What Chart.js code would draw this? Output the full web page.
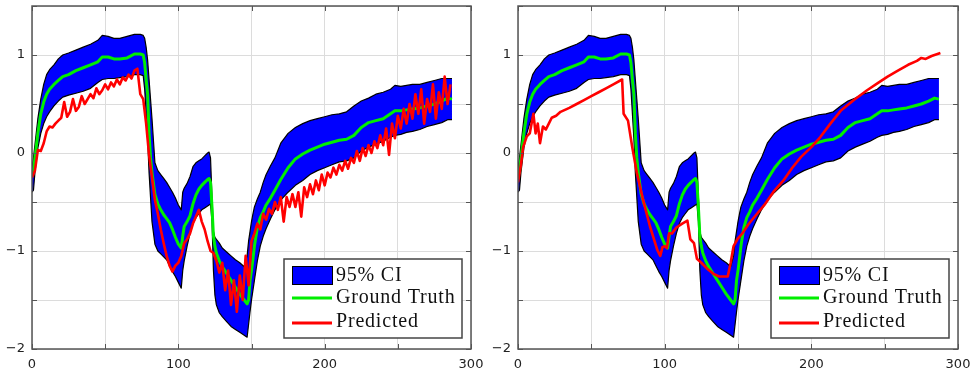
<!DOCTYPE html>
<html>
<head>
<meta charset="utf-8">
<script src="https://cdn.jsdelivr.net/npm/chart.js@4.4.1/dist/chart.umd.min.js"></script>
<style>
  body { margin: 0; background: #fff; }
  canvas { position: absolute; top: 0; }
  #leftChart { left: 0; }
  #rightChart { left: 487px; }
</style>
</head>
<body>
<canvas id="leftChart" width="487" height="375"></canvas>
<canvas id="rightChart" width="487" height="375"></canvas>
<script>
// time steps shared by the CI band and the ground truth
const steps = [0,1,2,4,6,8,10,12,15,18,21,25,30,35,40,45,48,52,56,60,65,70,74,76,77,78,79,80,81,82,
  84,86,88,90,92,94,96,98,100,102,103,104,106,108,110,112,114,116,118,120,121,122,123,124,125,126,128,130,133,136,
  139,142,145,147,148,149,150,151,152,154,156,158,160,163,166,170,175,180,185,190,195,200,205,210,215,220,225,230,235,240,
  245,248,252,256,260,265,270,275,280,284,287];

const groundTruth = [-0.22,-0.2,-0.05,0.2,0.4,0.52,0.6,0.65,0.7,0.74,
  0.78,0.8,0.84,0.87,0.9,0.93,0.98,0.98,0.96,0.96,
  0.97,1.01,1.01,1.0,0.92,0.75,0.6,0.2,-0.05,-0.2,
  -0.42,-0.52,-0.58,-0.63,-0.67,-0.71,-0.78,-0.86,-0.93,-0.97,
  -0.85,-0.75,-0.7,-0.64,-0.52,-0.43,-0.37,-0.33,-0.3,-0.27,
  -0.26,-0.3,-0.55,-0.85,-0.95,-1.02,-1.1,-1.16,-1.23,-1.3,
  -1.37,-1.44,-1.5,-1.54,-1.5,-1.3,-1.2,-1.08,-0.95,-0.76,
  -0.66,-0.6,-0.53,-0.46,-0.38,-0.27,-0.15,-0.06,-0.01,0.03,
  0.06,0.09,0.11,0.13,0.14,0.18,0.26,0.31,0.33,0.35,
  0.4,0.43,0.43,0.44,0.45,0.46,0.48,0.5,0.53,0.56,
  0.55];

const ciUpper = [-0.15,-0.05,0.08,0.35,0.55,0.7,0.8,0.85,0.9,0.96,
  1.0,1.02,1.05,1.08,1.11,1.15,1.2,1.19,1.17,1.17,
  1.19,1.21,1.21,1.2,1.17,1.08,0.95,0.75,0.55,0.35,
  -0.1,-0.18,-0.22,-0.26,-0.3,-0.35,-0.4,-0.46,-0.53,-0.58,
  -0.4,-0.36,-0.31,-0.24,-0.14,-0.1,-0.08,-0.06,-0.03,0.0,
  0.01,-0.05,-0.45,-0.8,-0.86,-0.88,-0.92,-0.97,-1.01,-1.05,
  -1.09,-1.12,-1.16,-1.05,-0.9,-0.8,-0.7,-0.62,-0.55,-0.47,
  -0.4,-0.3,-0.22,-0.13,-0.05,0.1,0.2,0.26,0.3,0.33,
  0.35,0.37,0.39,0.4,0.42,0.48,0.53,0.56,0.6,0.62,
  0.65,0.69,0.68,0.69,0.7,0.7,0.72,0.74,0.76,0.76,
  0.76];

const ciLower = [-0.4,-0.38,-0.2,0.05,0.2,0.3,0.37,0.42,0.48,0.53,
  0.57,0.59,0.61,0.63,0.66,0.72,0.75,0.76,0.76,0.77,
  0.78,0.8,0.8,0.79,0.65,0.4,0.15,-0.2,-0.45,-0.7,
  -0.93,-1.0,-1.03,-1.06,-1.09,-1.15,-1.21,-1.26,-1.32,-1.38,
  -1.2,-1.1,-0.95,-0.82,-0.72,-0.66,-0.62,-0.58,-0.56,-0.54,
  -0.53,-0.52,-0.7,-1.2,-1.45,-1.55,-1.63,-1.67,-1.72,-1.77,
  -1.8,-1.83,-1.86,-1.88,-1.75,-1.62,-1.5,-1.4,-1.3,-1.1,
  -0.95,-0.85,-0.77,-0.67,-0.58,-0.48,-0.4,-0.33,-0.28,-0.22,
  -0.18,-0.15,-0.12,-0.09,-0.08,-0.05,0.02,0.06,0.09,0.12,
  0.16,0.18,0.19,0.21,0.22,0.24,0.27,0.29,0.31,0.34,
  0.34];

// left panel prediction, one value every 2 steps (0, 2, 4, ... 286)
const predLeft = [-0.25,-0.18,0.03,0.02,0.1,0.22,0.27,0.26,0.3,0.33,
  0.36,0.52,0.37,0.42,0.55,0.43,0.47,0.58,0.5,0.55,
  0.6,0.56,0.66,0.6,0.64,0.7,0.65,0.72,0.68,0.75,
  0.7,0.77,0.74,0.8,0.76,0.84,0.86,0.6,0.55,0.3,
  -0.02,-0.25,-0.48,-0.62,-0.78,-0.92,-1.05,-1.15,-1.21,-1.15,
  -1.12,-1.05,-0.92,-0.88,-0.82,-0.72,-0.65,-0.58,-0.7,-0.78,
  -0.9,-1.0,-1.02,-1.1,-1.22,-1.12,-1.4,-1.2,-1.55,-1.3,
  -1.62,-1.25,-1.5,-1.05,-1.35,-0.9,-0.82,-0.72,-0.78,-0.62,
  -0.68,-0.57,-0.62,-0.5,-0.58,-0.45,-0.7,-0.45,-0.55,-0.42,
  -0.55,-0.4,-0.65,-0.35,-0.45,-0.32,-0.42,-0.28,-0.38,-0.22,
  -0.33,-0.2,-0.25,-0.15,-0.22,-0.12,-0.18,-0.08,-0.16,-0.05,
  -0.1,0.02,-0.08,0.05,-0.03,0.08,0.0,0.12,0.05,0.18,
  0.08,0.25,-0.02,0.3,0.15,0.38,0.25,0.45,0.3,0.5,
  0.35,0.6,0.4,0.65,0.3,0.55,0.42,0.7,0.35,0.62,
  0.45,0.78,0.5,0.7];

// right panel prediction (smooth curve)
const predRightX = [0,2,3.5,6,8,10.5,12,13.5,15,17,19,21,23,26,29,35,40,45,50,55,60,65,71,72,75,78,81,85,90,95,
  97,98.5,100,101.5,103,105,108,112,115.5,117.5,120,122,125,129,133,137,143,145,147,150,153,157,163,168,174,181,187,193,200,206,
  213,220,229,238,245,252,259,266,272,275,278,282,288];
const predRightY = [-0.3,-0.12,0.06,0.17,0.2,0.4,0.2,0.3,0.1,0.27,0.24,0.3,0.36,0.38,0.42,0.46,0.5,0.54,0.58,0.62,0.66,0.7,0.75,0.4,0.33,0.05,-0.2,-0.46,-0.75,-0.99,
  -1.05,-0.96,-0.95,-0.97,-0.82,-0.82,-0.76,-0.72,-0.69,-0.88,-0.92,-1.08,-1.12,-1.18,-1.23,-1.26,-1.26,-1.12,-0.95,-0.87,-0.82,-0.73,-0.62,-0.53,-0.4,-0.28,-0.15,-0.04,0.06,0.16,
  0.3,0.43,0.54,0.64,0.71,0.78,0.84,0.9,0.94,0.97,0.96,0.99,1.02];

const legendLabels = ['95% CI', 'Ground Truth', 'Predicted'];

const toPoints = (xs, ys) => ys.map((y, i) => ({x: xs[i], y: y}));
const minus = v => (v < 0 ? '\u2212' + Math.abs(v) : String(v));

// box round the plot with small inward ticks
const framePlugin = {
  id: 'frame',
  afterDraw(chart) {
    const {ctx, chartArea: a, scales} = chart;
    ctx.save();
    ctx.strokeStyle = '#555';
    ctx.lineWidth = 1.5;
    ctx.strokeRect(a.left, a.top, a.right - a.left, a.bottom - a.top);
    ctx.lineWidth = 1;
    ctx.beginPath();
    for (let v = -2; v <= 1.5; v += 0.5) {
      const y = Math.round(scales.y.getPixelForValue(v)) + 0.5;
      ctx.moveTo(a.left, y); ctx.lineTo(a.left + 5, y);
      ctx.moveTo(a.right, y); ctx.lineTo(a.right - 5, y);
    }
    for (let v = 0; v <= 300; v += 50) {
      const x = Math.round(scales.x.getPixelForValue(v)) + 0.5;
      ctx.moveTo(x, a.bottom); ctx.lineTo(x, a.bottom - 5);
      ctx.moveTo(x, a.top); ctx.lineTo(x, a.top + 5);
    }
    ctx.stroke();
    ctx.restore();
  }
};

// legend in the lower right corner of the plot
const boxLegendPlugin = {
  id: 'boxLegend',
  afterDraw(chart) {
    const {ctx, chartArea: a} = chart;
    const w = 178, h = 79;
    const x = a.right - 9 - w, y = a.bottom - 11 - h;
    ctx.save();
    ctx.fillStyle = '#fff';
    ctx.fillRect(x, y, w, h);
    ctx.strokeStyle = '#444';
    ctx.lineWidth = 1.5;
    ctx.strokeRect(x, y, w, h);

    ctx.fillStyle = '#0000ff';
    ctx.fillRect(x + 8, y + 7, 40, 18);
    ctx.strokeStyle = '#000';
    ctx.lineWidth = 1;
    ctx.strokeRect(x + 8.5, y + 7.5, 40, 18);

    ctx.lineWidth = 3;
    ctx.strokeStyle = '#00ee00';
    ctx.beginPath(); ctx.moveTo(x + 8, y + 39); ctx.lineTo(x + 48, y + 39); ctx.stroke();
    ctx.strokeStyle = '#ff0000';
    ctx.beginPath(); ctx.moveTo(x + 8, y + 64); ctx.lineTo(x + 48, y + 64); ctx.stroke();

    ctx.fillStyle = '#111';
    ctx.font = '20px "Liberation Serif"';
    ctx.letterSpacing = '0.8px';
    ctx.textBaseline = 'middle';
    ctx.fillText(legendLabels[0], x + 52, y + 17);
    ctx.fillText(legendLabels[1], x + 52, y + 39);
    ctx.fillText(legendLabels[2], x + 52, y + 63);
    ctx.restore();
  }
};

function makeChart(id, yAxisWidth, predX, predY) {
  return new Chart(document.getElementById(id), {
    type: 'line',
    data: {
      datasets: [
        {label: 'upper', data: toPoints(steps, ciUpper), borderColor: '#000', borderWidth: 1.2,
          backgroundColor: '#0000ff', fill: 1, order: 2},
        {label: 'lower', data: toPoints(steps, ciLower), borderColor: '#000', borderWidth: 1.2,
          fill: false, order: 3},
        {label: 'Ground Truth', data: toPoints(steps, groundTruth), borderColor: '#00ee00', borderWidth: 3,
          fill: false, order: 1},
        {label: 'Predicted', data: toPoints(predX, predY), borderColor: '#ff0000', borderWidth: 2.6,
          fill: false, order: 0}
      ]
    },
    options: {
      responsive: false,
      animation: false,
      devicePixelRatio: 1,
      elements: {point: {radius: 0}, line: {tension: 0, borderJoinStyle: 'round'}},
      layout: {padding: {left: 0, right: 16, top: 6, bottom: 0}},
      plugins: {
        legend: {display: false},
        tooltip: {enabled: false},
        filler: {drawTime: 'beforeDatasetsDraw'}
      },
      scales: {
        x: {
          type: 'linear', min: 0, max: 300,
          border: {display: false},
          grid: {color: '#dcdcdc', lineWidth: 1, drawTicks: false},
          ticks: {stepSize: 50, autoSkip: false, maxRotation: 0, padding: 8, color: '#222',
            font: {family: 'DejaVu Sans', size: 13},
            callback: v => (v % 100 === 0 ? String(v) : '')},
          afterFit(s) { s.height = 26; s.paddingLeft = 0; s.paddingRight = 0; }
        },
        y: {
          type: 'linear', min: -2, max: 1.5,
          border: {display: false},
          grid: {color: '#dcdcdc', lineWidth: 1, drawTicks: false},
          ticks: {stepSize: 0.5, autoSkip: false, padding: 7, color: '#222',
            font: {family: 'DejaVu Sans', size: 13},
            callback: v => (Number.isInteger(v) ? minus(v) : '')},
          afterFit(s) { s.width = yAxisWidth; s.paddingTop = 0; s.paddingBottom = 0; }
        }
      }
    },
    plugins: [framePlugin, boxLegendPlugin]
  });
}

const predLeftX = predLeft.map((_, i) => i * 2);
makeChart('leftChart', 32, predLeftX, predLeft);
makeChart('rightChart', 31, predRightX, predRightY);
</script>
</body>
</html>
